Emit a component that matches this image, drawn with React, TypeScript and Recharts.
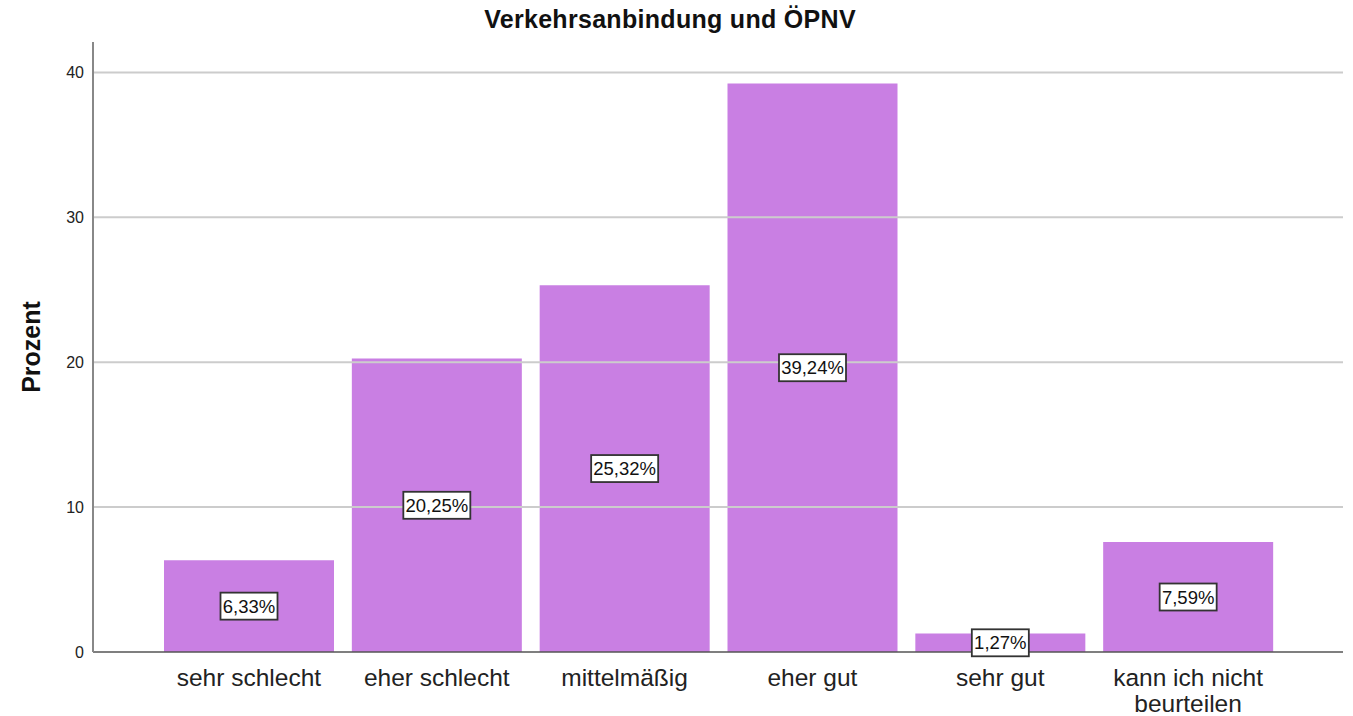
import React from "react";
import { BarChart, Bar, XAxis, YAxis, ReferenceLine, LabelList } from "recharts";

const categories = ["sehr schlecht", "eher schlecht", "mittelmäßig", "eher gut", "sehr gut", "kann ich nicht beurteilen"];
const percentValues = [6.33, 20.25, 25.32, 39.24, 1.27, 7.59];
const yTicks = [0, 10, 20, 30, 40];
const gridValues = [10, 20, 30, 40];
const chartTitle = "Verkehrsanbindung und ÖPNV";
const yAxisTitle = "Prozent";

const data = categories.map((c, i) => ({ name: c, value: percentValues[i] }));

const FONT = "'Liberation Sans', Arial, sans-serif";

const fmt = (v: number) => v.toFixed(2).replace(".", ",") + "%";

function wrapLabel(text: string): string[] {
  if (text.length <= 15) return [text];
  const words = text.split(" ");
  const lines: string[] = [];
  let cur = "";
  for (const w of words) {
    const next = cur ? cur + " " + w : w;
    if (next.length > 15 && cur) {
      lines.push(cur);
      cur = w;
    } else cur = next;
  }
  if (cur) lines.push(cur);
  return lines;
}

const XTick = (props: any) => {
  const { x, y, payload } = props;
  const lines = wrapLabel(String(payload.value));
  return (
    <g>
      {lines.map((l, i) => (
        <text key={i} x={x} y={y + 26 + i * 26} textAnchor="middle" fontSize={24.5} fontFamily={FONT} fill="#222">
          {l}
        </text>
      ))}
    </g>
  );
};

const BoxLabel = (props: any) => {
  const { x, y, width, height, value } = props;
  const cx = x + width / 2;
  const cy = y + height / 2;
  const txt = fmt(Number(value));
  const w = txt.length * 10 + 7;
  const h = 27;
  return (
    <g>
      <rect x={cx - w / 2} y={cy - h / 2} width={w} height={h} fill="#fff" stroke="#333" strokeWidth={1.8} />
      <text x={cx} y={cy + 6.5} textAnchor="middle" fontSize={18.5} fontFamily={FONT} fill="#111">
        {txt}
      </text>
    </g>
  );
};

export default function App() {
  return (
    <div style={{ position: "absolute", left: 0, top: 0, width: 1353, height: 716, background: "#fff" }}>
      <div
        style={{
          position: "absolute",
          left: 0,
          width: 1340,
          top: 5,
          textAlign: "center",
          fontFamily: FONT,
          fontWeight: "bold",
          fontSize: 25,
          letterSpacing: 0.3,
          color: "#111",
          zIndex: 2,
        }}
      >
        {chartTitle}
      </div>
      <div
        style={{
          position: "absolute",
          left: 31,
          top: 347,
          transform: "translate(-50%, -50%) rotate(-90deg)",
          fontFamily: FONT,
          fontWeight: "bold",
          fontSize: 25,
          color: "#111",
          whiteSpace: "nowrap",
          zIndex: 2,
        }}
      >
        {yAxisTitle}
      </div>
      <BarChart
        width={1353}
        height={716}
        data={data}
        margin={{ top: 42, right: 10, bottom: 0, left: 0 }}
        barCategoryGap={9}
      >
        {gridValues.map((g) => (
          <ReferenceLine key={g} y={g} stroke="#cccccc" strokeWidth={2} />
        ))}
        <XAxis
          dataKey="name"
          height={64}
          padding={{ left: 62, right: 61 }}
          tickLine={false}
          axisLine={{ stroke: "#555", strokeWidth: 1.5 }}
          tick={<XTick />}
          interval={0}
        />
        <YAxis
          width={93}
          domain={[0, 42.1]}
          ticks={yTicks}
          allowDataOverflow
          tickLine={false}
          tickSize={0}
          tickMargin={9}
          axisLine={{ stroke: "#888", strokeWidth: 2 }}
          tick={{ fontSize: 16, fontFamily: FONT, fill: "#222" }}
        />
        <Bar dataKey="value" fill="#C97FE3" isAnimationActive={false}>
          <LabelList dataKey="value" content={<BoxLabel />} />
        </Bar>
      </BarChart>
    </div>
  );
}
